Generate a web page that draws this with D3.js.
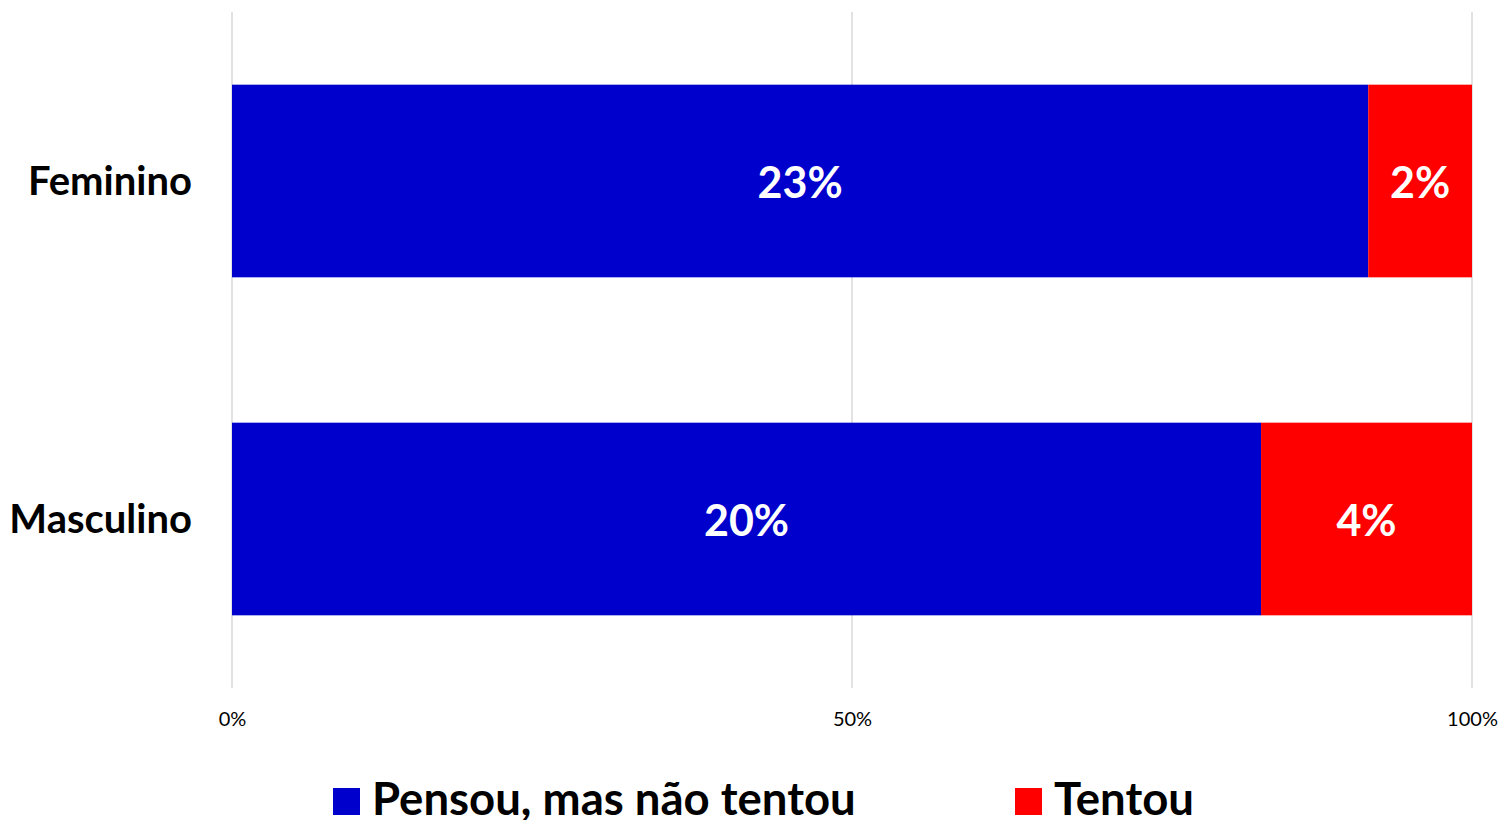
<!DOCTYPE html>
<html>
<head>
<meta charset="utf-8">
<script src="https://cdn.jsdelivr.net/npm/d3@7"></script>
<style>
  body { margin: 0; background: #fff; }
  text { font-family: Lato, "Open Sans", sans-serif; }
</style>
</head>
<body>
<div id="chart"></div>
<script>
// data
var categories = ["Feminino", "Masculino"];
var pensou = [23, 20];
var tentou = [2.1, 4.1];
var seriesNames = ["Pensou, mas não tentou", "Tentou"];
var seriesColors = ["#0000CC", "#FF0000"];
var tickValues = [0, 0.5, 1];

var svgWidth = 1502;
var svgHeight = 820;

var margin = { top: 12, bottom: 132, right: 30, left: 232 };
var width = svgWidth - margin.left - margin.right;
var height = svgHeight - margin.top - margin.bottom;

var svg = d3.select("#chart")
  .append("svg")
  .attr("width", svgWidth)
  .attr("height", svgHeight);

var chartGroup = svg.append("g")
  .attr("transform", `translate(${margin.left}, ${margin.top})`);

var rows = categories.map(function(c, i) {
  return { cat: c, pensou: pensou[i], tentou: tentou[i] };
});

var stacked = d3.stack()
  .keys(["pensou", "tentou"])
  .offset(d3.stackOffsetExpand)(rows);

var xScale = d3.scaleLinear().domain([0, 1]).range([0, width]);
var yScale = d3.scaleBand()
  .domain(categories)
  .range([0, height])
  .paddingInner(0.43)
  .paddingOuter(0.215);

// grid lines
chartGroup.selectAll(".grid")
  .data(tickValues)
  .enter()
  .append("line")
  .attr("x1", d => xScale(d))
  .attr("x2", d => xScale(d))
  .attr("y1", 0)
  .attr("y2", height)
  .attr("stroke", "#d9d9d9")
  .attr("stroke-width", 1.5);

// x axis tick labels
var xAxis = d3.axisBottom(xScale)
  .tickValues(tickValues)
  .tickFormat(d3.format(".0%"))
  .tickSize(0)
  .tickPadding(24);

var xg = chartGroup.append("g")
  .attr("transform", `translate(0, ${height})`)
  .call(xAxis);
xg.select(".domain").remove();
xg.selectAll("text")
  .attr("font-size", "20px")
  .attr("fill", "#000");

// y axis labels
var yAxis = d3.axisLeft(yScale).tickSize(0).tickPadding(40);
var yg = chartGroup.append("g").call(yAxis);
yg.select(".domain").remove();
yg.selectAll("text")
  .attr("font-size", "40px")
  .attr("font-weight", "bold")
  .attr("fill", "#000")
  .attr("dy", "0.34em");

// bars
var layers = chartGroup.selectAll(".layer")
  .data(stacked)
  .enter()
  .append("g")
  .attr("fill", (d, i) => seriesColors[i]);

layers.selectAll("rect")
  .data(d => d)
  .enter()
  .append("rect")
  .attr("x", d => xScale(d[0]))
  .attr("y", d => yScale(d.data.cat))
  .attr("width", d => xScale(d[1]) - xScale(d[0]))
  .attr("height", yScale.bandwidth());

// value labels
layers.each(function(layer) {
  d3.select(this).selectAll("text")
    .data(layer)
    .enter()
    .append("text")
    .attr("x", d => (xScale(d[0]) + xScale(d[1])) / 2)
    .attr("y", d => yScale(d.data.cat) + yScale.bandwidth() / 2)
    .attr("dy", "0.4em")
    .attr("text-anchor", "middle")
    .attr("fill", "#fff")
    .attr("font-size", "43px")
    .attr("font-weight", "bold")
    .text(d => Math.round(d.data[layer.key]) + "%");
});

// legend
var legendX = [333, 1015];
var legend = svg.selectAll(".legend")
  .data(seriesNames)
  .enter()
  .append("g")
  .attr("transform", (d, i) => `translate(${legendX[i]}, 788)`);

legend.append("rect")
  .attr("width", 27)
  .attr("height", 27)
  .attr("fill", (d, i) => seriesColors[i]);

legend.append("text")
  .attr("x", 39)
  .attr("y", 27)
  .attr("font-size", "45.5px")
  .attr("font-weight", "bold")
  .attr("fill", "#000")
  .text(d => d);
</script>
</body>
</html>
